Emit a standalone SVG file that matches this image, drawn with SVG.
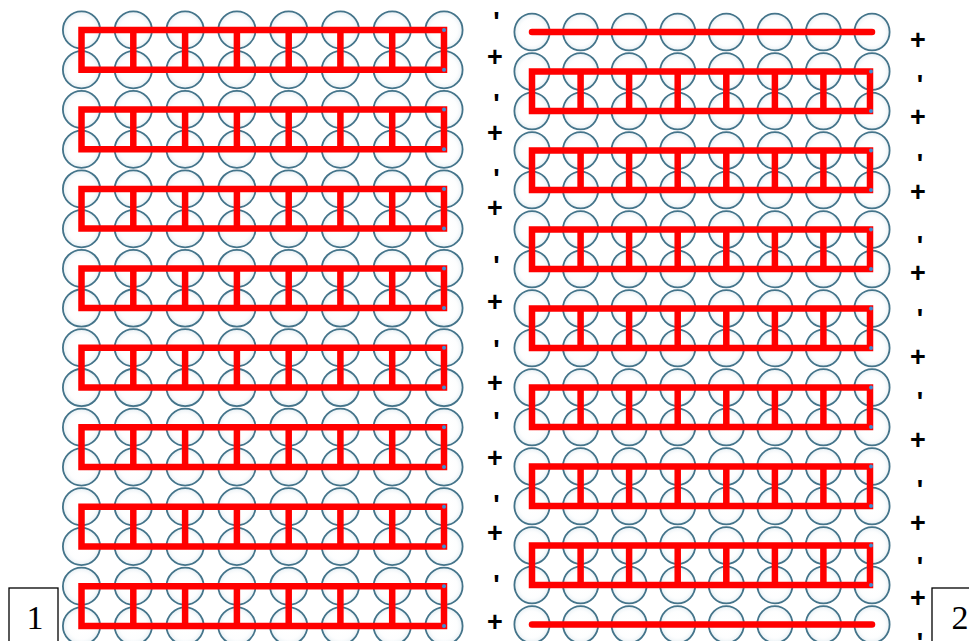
<svg xmlns="http://www.w3.org/2000/svg" xmlns:xlink="http://www.w3.org/1999/xlink" width="969" height="641" viewBox="0 0 969 641">
  <style>
    .cell { fill: url(#cellFill); stroke: #44748a; stroke-width: 1.8; }
    .bus { fill: none; stroke: #ff0000; stroke-width: 6.5; stroke-linejoin: miter; }
    .bar { fill: none; stroke: #ff0000; stroke-width: 6.5; stroke-linecap: round; }
    .dot { fill: #3b8fd4; }
    .sign { font-family: "Liberation Sans", Arial, sans-serif; font-weight: bold; font-size: 27px; fill: #000; text-anchor: middle; }
    .box { fill: #fff; stroke: #000; stroke-width: 1.3; }
    .num { font-family: "Liberation Serif", "Times New Roman", serif; font-size: 34px; fill: #000; text-anchor: middle; }
  </style>
  <defs>
    <radialGradient id="cellFill" cx="0.5" cy="0.5" r="0.5">
      <stop offset="0" stop-color="#ffffff" stop-opacity="0"/>
      <stop offset="0.7" stop-color="#f6f9fb" stop-opacity="0.2"/>
      <stop offset="1" stop-color="#d3e2ea" stop-opacity="0.6"/>
    </radialGradient>
    <g id="rowL">
      <circle class="cell" cx="81.5" cy="0" r="18.6"/>
      <circle class="cell" cx="133.3" cy="0" r="18.6"/>
      <circle class="cell" cx="185.1" cy="0" r="18.6"/>
      <circle class="cell" cx="236.9" cy="0" r="18.6"/>
      <circle class="cell" cx="288.7" cy="0" r="18.6"/>
      <circle class="cell" cx="340.4" cy="0" r="18.6"/>
      <circle class="cell" cx="392.2" cy="0" r="18.6"/>
      <circle class="cell" cx="444" cy="0" r="18.6"/>
    </g>
    <g id="rowR">
      <ellipse class="cell" cx="532" cy="0" rx="17.6" ry="18.4"/>
      <ellipse class="cell" cx="580.6" cy="0" rx="17.6" ry="18.4"/>
      <ellipse class="cell" cx="629.1" cy="0" rx="17.6" ry="18.4"/>
      <ellipse class="cell" cx="677.7" cy="0" rx="17.6" ry="18.4"/>
      <ellipse class="cell" cx="726.3" cy="0" rx="17.6" ry="18.4"/>
      <ellipse class="cell" cx="774.9" cy="0" rx="17.6" ry="18.4"/>
      <ellipse class="cell" cx="823.4" cy="0" rx="17.6" ry="18.4"/>
      <ellipse class="cell" cx="872" cy="0" rx="17.6" ry="18.4"/>
    </g>
    <g id="linkL">
      <path class="bus" d="M81.5,0 H444 V39.7 H81.5 Z"/>
      <path class="bus" d="M133.3,0 V39.7 M185.1,0 V39.7 M236.9,0 V39.7 M288.7,0 V39.7 M340.4,0 V39.7 M392.2,0 V39.7"/>
      <circle class="dot" cx="444" cy="0" r="2"/>
      <circle class="dot" cx="444" cy="39.7" r="2"/>
    </g>
    <g id="linkR">
      <path class="bus" d="M532,0 H870 V39.5 H532 Z"/>
      <path class="bus" d="M580.6,0 V39.5 M629.1,0 V39.5 M677.7,0 V39.5 M726.3,0 V39.5 M774.9,0 V39.5 M823.4,0 V39.5"/>
      <circle class="dot" cx="871" cy="0" r="2"/>
      <circle class="dot" cx="871" cy="39.5" r="2"/>
    </g>
  </defs>

  <rect x="0" y="0" width="969" height="641" fill="#ffffff"/>

  <g id="pack1-cells">
    <use href="#rowL" y="30"/>
    <use href="#rowL" y="69.7"/>
    <use href="#rowL" y="109.5"/>
    <use href="#rowL" y="149.2"/>
    <use href="#rowL" y="188.9"/>
    <use href="#rowL" y="228.7"/>
    <use href="#rowL" y="268.4"/>
    <use href="#rowL" y="308.1"/>
    <use href="#rowL" y="347.8"/>
    <use href="#rowL" y="387.6"/>
    <use href="#rowL" y="427.3"/>
    <use href="#rowL" y="467"/>
    <use href="#rowL" y="506.8"/>
    <use href="#rowL" y="546.5"/>
    <use href="#rowL" y="586.2"/>
    <use href="#rowL" y="626"/>
  </g>

  <g id="pack2-cells">
    <use href="#rowR" y="32"/>
    <use href="#rowR" y="71.5"/>
    <use href="#rowR" y="111"/>
    <use href="#rowR" y="150.5"/>
    <use href="#rowR" y="190"/>
    <use href="#rowR" y="229.5"/>
    <use href="#rowR" y="269"/>
    <use href="#rowR" y="308.5"/>
    <use href="#rowR" y="348"/>
    <use href="#rowR" y="387.5"/>
    <use href="#rowR" y="427"/>
    <use href="#rowR" y="466.5"/>
    <use href="#rowR" y="506"/>
    <use href="#rowR" y="545.5"/>
    <use href="#rowR" y="585"/>
    <use href="#rowR" y="624.5"/>
  </g>

  <g id="connectors">
    <use href="#linkL" y="30"/>
    <use href="#linkL" y="109.5"/>
    <use href="#linkL" y="188.9"/>
    <use href="#linkL" y="268.4"/>
    <use href="#linkL" y="347.8"/>
    <use href="#linkL" y="427.3"/>
    <use href="#linkL" y="506.8"/>
    <use href="#linkL" y="586.2"/>

    <path class="bar" d="M532,32 H872"/>
    <use href="#linkR" y="71.5"/>
    <use href="#linkR" y="150.5"/>
    <use href="#linkR" y="229.5"/>
    <use href="#linkR" y="308.5"/>
    <use href="#linkR" y="387.5"/>
    <use href="#linkR" y="466.5"/>
    <use href="#linkR" y="545.5"/>
    <path class="bar" d="M532,624.5 H872"/>
  </g>

  <g id="signs-middle">
    <text class="sign" x="496.5" y="31">'</text>
    <text class="sign" x="495" y="66">+</text>
    <text class="sign" x="496.5" y="113">'</text>
    <text class="sign" x="495" y="142">+</text>
    <text class="sign" x="496.5" y="188">'</text>
    <text class="sign" x="495" y="217">+</text>
    <text class="sign" x="496.5" y="275">'</text>
    <text class="sign" x="495" y="311">+</text>
    <text class="sign" x="496.5" y="359">'</text>
    <text class="sign" x="495" y="392">+</text>
    <text class="sign" x="496.5" y="431">'</text>
    <text class="sign" x="495" y="467">+</text>
    <text class="sign" x="496.5" y="514">'</text>
    <text class="sign" x="495" y="542">+</text>
    <text class="sign" x="496.5" y="594">'</text>
    <text class="sign" x="495" y="631">+</text>
  </g>

  <g id="signs-right">
    <text class="sign" x="918" y="49">+</text>
    <text class="sign" x="920" y="94">'</text>
    <text class="sign" x="918" y="126">+</text>
    <text class="sign" x="920" y="173">'</text>
    <text class="sign" x="918" y="201">+</text>
    <text class="sign" x="920" y="255">'</text>
    <text class="sign" x="918" y="282">+</text>
    <text class="sign" x="920" y="328">'</text>
    <text class="sign" x="918" y="366">+</text>
    <text class="sign" x="920" y="411">'</text>
    <text class="sign" x="918" y="449">+</text>
    <text class="sign" x="920" y="499">'</text>
    <text class="sign" x="918" y="532">+</text>
    <text class="sign" x="920" y="576">'</text>
    <text class="sign" x="918" y="607">+</text>
    <text class="sign" x="920" y="652">'</text>
  </g>

  <g id="label-1">
    <rect class="box" x="9" y="588" width="49" height="70"/>
    <text class="num" x="35" y="629">1</text>
  </g>
  <g id="label-2">
    <rect class="box" x="932" y="588" width="50" height="70"/>
    <text class="num" x="960" y="629">2</text>
  </g>
</svg>
